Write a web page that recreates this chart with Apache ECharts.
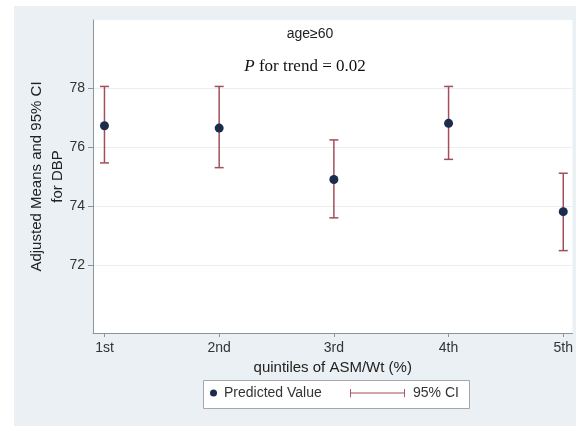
<!DOCTYPE html>
<html><head><meta charset="utf-8">
<script src="https://cdn.jsdelivr.net/npm/echarts@6/dist/echarts.min.js"></script>
<style>html,body{margin:0;padding:0;background:#fff}#c{width:576px;height:426px}</style>
</head><body><div id="c"></div>
<script>
var categories = ['1st', '2nd', '3rd', '4th', '5th'];
var positions = [1, 2, 3, 4, 5];
var means = [76.72, 76.64, 74.9, 76.8, 73.81];
var ciLow = [75.46, 75.3, 73.6, 75.58, 72.49];
var ciHigh = [78.05, 78.05, 76.24, 78.05, 75.11];
var yTicks = [72, 74, 76, 78];

var chart = echarts.init(document.getElementById('c'));
var sans = 'Liberation Sans, Arial, sans-serif';
var serif = 'Liberation Serif, Times New Roman, serif';
var ciColor = '#a24f5b';
var ptColor = '#1d2b4d';
var axisColor = '#8f9499';

chart.setOption({
  animation: false,
  backgroundColor: '#ffffff',
  graphic: [{
    type: 'rect', z: -10, silent: true,
    shape: {x: 14, y: 6, width: 562, height: 420},
    style: {fill: '#eaf0f4'}
  }, {
    type: 'rect', z: -5, silent: true,
    shape: {x: 203.5, y: 380.5, width: 266, height: 28},
    style: {fill: '#ffffff', stroke: '#a3a7ab', lineWidth: 1}
  }],
  title: [{
    text: 'age≥60', left: 305, top: 22, textAlign: 'center',
    textStyle: {fontFamily: sans, fontSize: 14, fontWeight: 'normal', color: '#222'}
  }, {
    text: '{i|P} for trend = 0.02', left: 300, top: 53, textAlign: 'center',
    textStyle: {
      fontFamily: serif, fontSize: 17, fontWeight: 'normal', color: '#111',
      rich: {i: {fontFamily: serif, fontSize: 17, fontStyle: 'italic', color: '#111'}}
    }
  }],
  legend: [{
    left: 210, top: 386, padding: 0, orient: 'horizontal',
    itemWidth: 7, itemHeight: 7, itemGap: 0,
    textStyle: {fontFamily: sans, fontSize: 14, color: '#333', padding: [0, 0, 0, 2]},
    data: [{name: 'Predicted Value', icon: 'circle', itemStyle: {color: ptColor}}]
  }, {
    left: 350, top: 386, padding: 0, orient: 'horizontal',
    itemWidth: 55, itemHeight: 9, itemGap: 0,
    textStyle: {fontFamily: sans, fontSize: 14, color: '#333', padding: [0, 0, 0, 3]},
    data: [{name: '95% CI', icon: 'path://M0,0H1V4H59V0H60V9H59V5H1V9H0Z', itemStyle: {color: ciColor}}]
  }],
  grid: {left: 93, right: 0, top: 20, bottom: 93, containLabel: false,
    show: true, backgroundColor: '#ffffff', borderWidth: 0},
  xAxis: {
    type: 'value', min: 0.9, max: 5.08,
    name: 'quintiles of ASM/Wt (%)', nameLocation: 'middle', nameGap: 19,
    nameTextStyle: {fontFamily: sans, fontSize: 15, color: '#222'},
    axisLine: {show: true, onZero: false, lineStyle: {color: axisColor, width: 1}},
    axisTick: {show: true, length: 4, customValues: positions, lineStyle: {color: axisColor}},
    axisLabel: {customValues: positions, margin: 8, fontFamily: sans, fontSize: 14, color: '#333',
      formatter: function (v) { return categories[Math.round(v) - 1]; }},
    splitLine: {show: false}
  },
  yAxis: {
    type: 'value', min: 69.7, max: 80.3,
    name: 'Adjusted Means and 95% CI\nfor DBP', nameLocation: 'middle', nameGap: 25, nameRotate: 90,
    nameMoveOverlap: false,
    nameTextStyle: {fontFamily: sans, fontSize: 15, color: '#222', lineHeight: 21},
    axisLine: {show: true, lineStyle: {color: axisColor, width: 1}},
    axisTick: {show: true, length: 5, customValues: yTicks, lineStyle: {color: axisColor}},
    axisLabel: {customValues: yTicks, margin: 8, fontFamily: sans, fontSize: 14, color: '#333'},
    splitLine: {show: true, lineStyle: {color: '#e8edf2', width: 1}}
  },
  series: [{
    name: '95% CI', type: 'custom',
    data: positions.map(function (p, i) { return [p, ciLow[i], ciHigh[i]]; }),
    encode: {x: 0, y: [1, 2]},
    renderItem: function (params, api) {
      var x = api.value(0);
      var lo = api.coord([x, api.value(1)]);
      var hi = api.coord([x, api.value(2)]);
      var hw = 4.5;
      var st = {stroke: ciColor, lineWidth: 1.5};
      return {type: 'group', children: [
        {type: 'line', shape: {x1: lo[0], y1: lo[1], x2: hi[0], y2: hi[1]}, style: st},
        {type: 'line', shape: {x1: lo[0] - hw, y1: lo[1], x2: lo[0] + hw, y2: lo[1]}, style: st},
        {type: 'line', shape: {x1: hi[0] - hw, y1: hi[1], x2: hi[0] + hw, y2: hi[1]}, style: st}
      ]};
    },
    itemStyle: {color: ciColor},
    z: 2
  }, {
    name: 'Predicted Value', type: 'scatter',
    data: positions.map(function (p, i) { return [p, means[i]]; }),
    symbol: 'circle', symbolSize: 9,
    itemStyle: {color: ptColor, opacity: 1},
    z: 3
  }]
});
</script></body></html>
